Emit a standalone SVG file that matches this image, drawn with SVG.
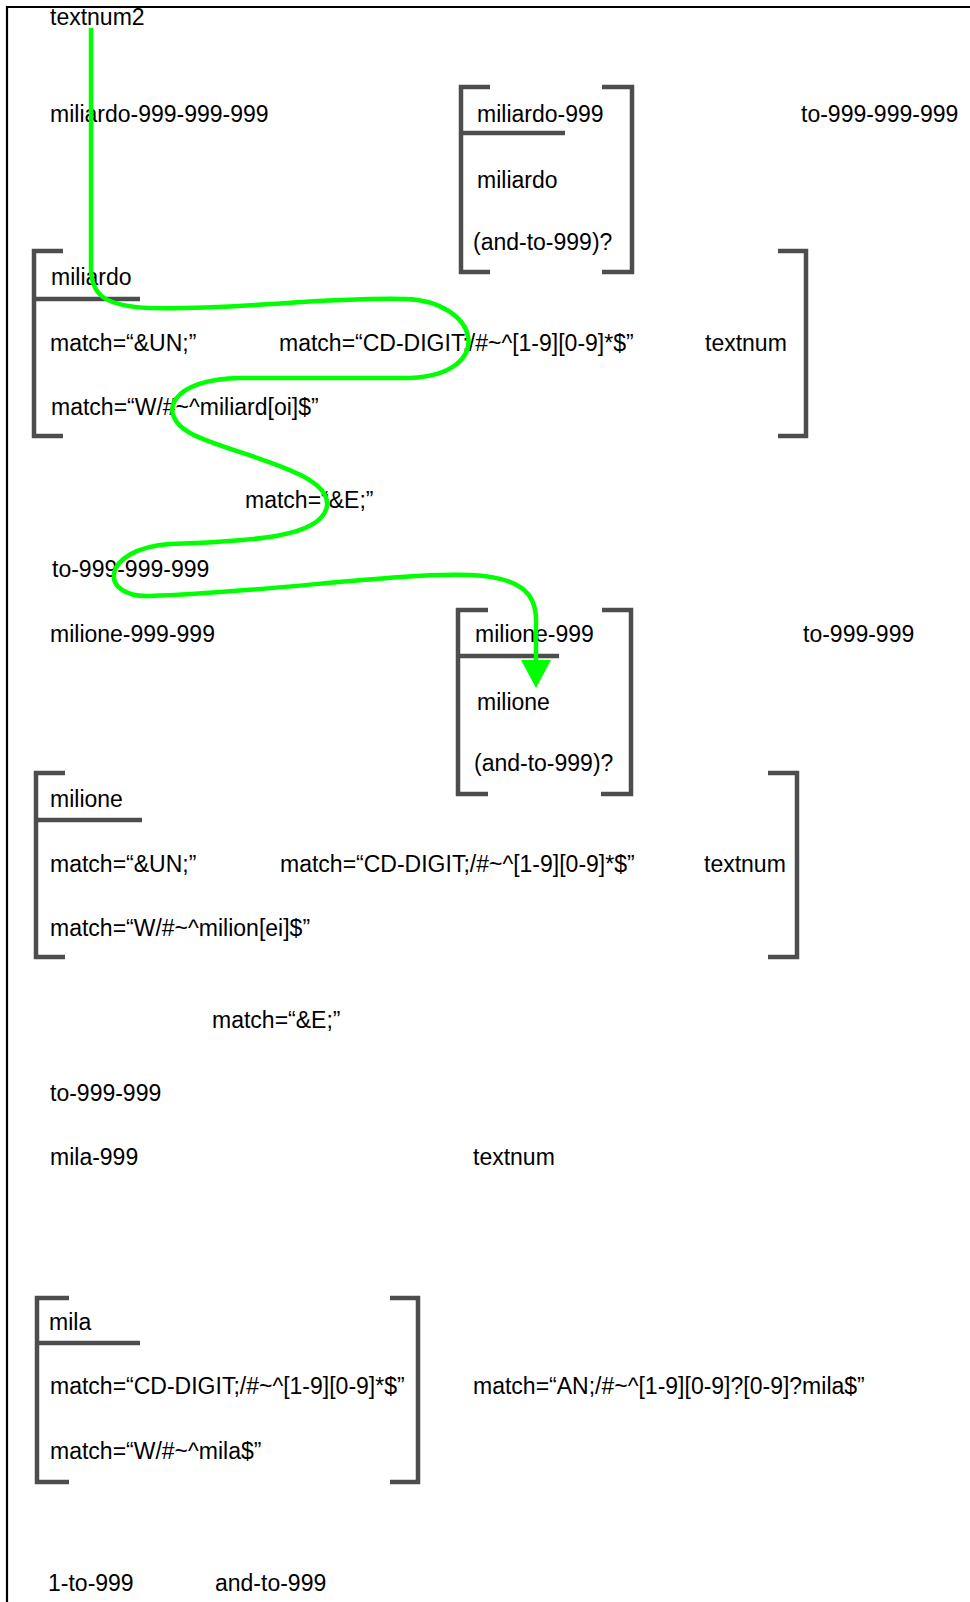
<svg xmlns="http://www.w3.org/2000/svg" width="970" height="1602" viewBox="0 0 970 1602">
<style>
text{font-family:"Liberation Sans",Arial,sans-serif;font-size:23px;fill:#000}
.br{fill:none;stroke:#4d4d4d;stroke-width:4.5}
.conn{fill:none;stroke:#00ff00;stroke-width:4.5}
</style>
<defs>
<marker id="arr" markerUnits="userSpaceOnUse" markerWidth="30" markerHeight="32" refX="0" refY="15" orient="auto">
<path d="M0,0 L28,15 L0,30 z" fill="#00ff00"/>
</marker>
</defs>
<rect width="970" height="1602" fill="#fff"/>
<path d="M7 1602 V7 H970" fill="none" stroke="#000" stroke-width="2.2"/>

<g id="title"><text x="50" y="25">textnum2</text></g>

<g id="row-miliardo">
<text x="50" y="122">miliardo-999-999-999</text>
<text x="801" y="122">to-999-999-999</text>
</g>

<g id="node-miliardo-999">
<path class="br" d="M490 87 H461 V272 H490"/>
<path class="br" d="M602 87 H632 V272 H602"/>
<path class="br" d="M461 133 H565"/>
<text x="477" y="122">miliardo-999</text>
<text x="477" y="188">miliardo</text>
<text x="473" y="250">(and-to-999)?</text>
</g>

<g id="node-miliardo">
<path class="br" d="M63 251 H34 V436 H63"/>
<path class="br" d="M778 251 H806 V436 H778"/>
<path class="br" d="M34 299 H140"/>
<text x="51" y="285">miliardo</text>
<text x="50" y="351">match=“&amp;UN;”</text>
<text x="279" y="351">match=“CD-DIGIT;/#~^[1-9][0-9]*$”</text>
<text x="705" y="351">textnum</text>
<text x="51" y="415">match=“W/#~^miliard[oi]$”</text>
</g>

<g id="label-e1"><text x="245" y="508">match=“&amp;E;”</text></g>

<g id="row-milione">
<text x="52" y="577">to-999-999-999</text>
<text x="50" y="642">milione-999-999</text>
<text x="803" y="642">to-999-999</text>
</g>

<g id="node-milione-999">
<path class="br" d="M488 610 H458 V794 H488"/>
<path class="br" d="M602 610 H631 V794 H601"/>
<path class="br" d="M458 656 H559"/>
<text x="475" y="642">milione-999</text>
<text x="477" y="710">milione</text>
<text x="474" y="771">(and-to-999)?</text>
</g>

<g id="node-milione">
<path class="br" d="M65 773 H36 V957 H65"/>
<path class="br" d="M768 773 H797 V957 H768"/>
<path class="br" d="M36 820 H142"/>
<text x="50" y="807">milione</text>
<text x="50" y="872">match=“&amp;UN;”</text>
<text x="280" y="872">match=“CD-DIGIT;/#~^[1-9][0-9]*$”</text>
<text x="704" y="872">textnum</text>
<text x="50" y="936">match=“W/#~^milion[ei]$”</text>
</g>

<g id="label-e2"><text x="212" y="1028">match=“&amp;E;”</text></g>

<g id="row-mila">
<text x="50" y="1101">to-999-999</text>
<text x="50" y="1165">mila-999</text>
<text x="473" y="1165">textnum</text>
</g>

<g id="node-mila">
<path class="br" d="M69 1298 H37 V1482 H69"/>
<path class="br" d="M390 1298 H418 V1482 H390"/>
<path class="br" d="M37 1343 H140"/>
<text x="49" y="1330">mila</text>
<text x="50" y="1394">match=“CD-DIGIT;/#~^[1-9][0-9]*$”</text>
<text x="50" y="1459">match=“W/#~^mila$”</text>
</g>
<g id="label-an"><text x="473" y="1394">match=“AN;/#~^[1-9][0-9]?[0-9]?mila$”</text></g>

<g id="row-bottom">
<text x="48" y="1591">1-to-999</text>
<text x="215" y="1591">and-to-999</text>
</g>

<g id="connectors">
<path class="conn" marker-end="url(#arr)" d="M91 28 L91 268 C91 296 106 306 150 308 C240 310 320 297 405 299 C480 301 497 374 410 378 L240 378 C172 379 155 413 190 433 C225 453 332 470 327 506 C322 537 255 541 170 544 C100 549 98 598 150 596 C260 593 400 572 470 575 C520 577 536 593 536 620 L536 660"/>
</g>
</svg>
